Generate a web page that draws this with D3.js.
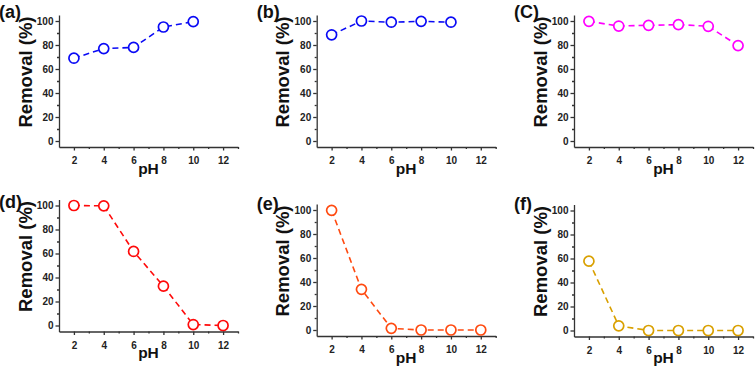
<!DOCTYPE html>
<html>
<head>
<meta charset="utf-8">
<script src="https://cdn.jsdelivr.net/npm/d3@7"></script>
<style>
  body { margin: 0; background: #fff; }
  text { font-family: "Liberation Sans", Arial, sans-serif; font-weight: bold; }
</style>
</head>
<body>
<div class="container"></div>
<script>
// removal vs pH for six panels
const phA = [2, 4, 6, 8, 10];
const remA = [69, 77, 78, 95, 99.5];
const phB = [2, 4, 6, 8, 10];
const remB = [88.5, 100, 99, 99.7, 99];
const phC = [2, 4, 6, 8, 10, 12];
const remC = [99.7, 95.8, 96.4, 97, 95.6, 79.5];
const phD = [2, 4, 6, 8, 10, 12];
const remD = [100, 99.7, 61.7, 32.8, 0.8, 0];
const phE = [2, 4, 6, 8, 10, 12];
const remE = [99.7, 33.9, 1.4, 0, 0, 0];
const phF = [2, 4, 6, 8, 10, 12];
const remF = [57.8, 3.9, 0, 0, 0, 0];

const panelLabels = ['(a)', '(b)', '(C)', '(d)', '(e)', '(f)'];
const xTicks = [2, 4, 6, 8, 10, 12];
const xMinor = [3, 5, 7, 9, 11, 13];
const yTicks = [0, 20, 40, 60, 80, 100];
const yMinor = [10, 30, 50, 70, 90];
const xTitle = 'pH';
const yTitle = 'Removal (%)';

const width = 756;
const height = 368;
const plotW = 179;
const plotH = 132;

const panels = [
    {ph: phA, rem: remA, color: '#0a0af5', x: 59, top: 15, labelY: 18},
    {ph: phB, rem: remB, color: '#0a0af5', x: 316.7, top: 15, labelY: 18},
    {ph: phC, rem: remC, color: '#ff00ff', x: 574, top: 15, labelY: 18},
    {ph: phD, rem: remD, color: '#ff0a0a', x: 59, top: 199.5, labelY: 208},
    {ph: phE, rem: remE, color: '#ff4a10', x: 316.7, top: 204, labelY: 209.5},
    {ph: phF, rem: remF, color: '#d9a000', x: 574, top: 204.5, labelY: 209.5},
];

const svg = d3.select('.container')
    .append('svg')
    .attr('width', width)
    .attr('height', height);

const xscale = d3.scaleLinear().domain([1, 13]).range([0, plotW]);
const yscale = d3.scaleLinear().domain([-5, 105]).range([plotH, 0]);

panels.forEach((p, i) => {
    const g = svg.append('g').attr('transform', `translate(${p.x},${p.top})`);

    // minor ticks first
    g.append('g')
        .attr('transform', `translate(0,${plotH})`)
        .call(d3.axisBottom(xscale).tickValues(xMinor).tickSize(2).tickFormat(''))
        .call(a => a.select('.domain').remove());
    g.append('g')
        .call(d3.axisLeft(yscale).tickValues(yMinor).tickSize(2).tickFormat(''))
        .call(a => a.select('.domain').remove());

    const xAxis = g.append('g')
        .attr('transform', `translate(0,${plotH})`)
        .call(d3.axisBottom(xscale).tickValues(xTicks).tickSize(3.5).tickSizeOuter(0).tickPadding(6.5));
    const yAxis = g.append('g')
        .call(d3.axisLeft(yscale).tickValues(yTicks).tickSize(3.5).tickSizeOuter(0).tickPadding(2));

    [xAxis, yAxis].forEach(a => {
        a.selectAll('text').attr('font-size', 10).attr('fill', '#222')
            .style('font-family', '"Liberation Sans", Arial, sans-serif').style('font-weight', 'bold');
    });
    g.selectAll('.domain, .tick line').attr('stroke', '#333').attr('stroke-width', 1.3);

    const pts = p.ph.map((d, j) => ({ph: d, rem: p.rem[j]}));
    const line = d3.line().x(d => xscale(d.ph)).y(d => yscale(d.rem));

    g.append('path')
        .datum(pts)
        .attr('d', line)
        .attr('fill', 'none')
        .attr('stroke', p.color)
        .attr('stroke-width', 1.6)
        .attr('stroke-dasharray', '6,4');

    g.selectAll('.point')
        .data(pts)
        .enter()
        .append('circle')
        .attr('class', 'point')
        .attr('cx', d => xscale(d.ph))
        .attr('cy', d => yscale(d.rem))
        .attr('r', 5)
        .attr('fill', 'white')
        .attr('stroke', p.color)
        .attr('stroke-width', 1.7);

    g.append('text')
        .attr('x', plotW / 2)
        .attr('y', plotH + 26.5)
        .attr('text-anchor', 'middle')
        .attr('font-size', 15.5)
        .attr('fill', '#111')
        .text(xTitle);

    g.append('text')
        .attr('transform', `translate(-27.5,57) rotate(-90)`)
        .attr('text-anchor', 'middle')
        .attr('font-size', 18.5)
        .attr('fill', '#111')
        .text(yTitle);

    svg.append('text')
        .attr('x', p.x - 60)
        .attr('y', p.labelY)
        .attr('font-size', 18)
        .attr('fill', '#111')
        .text(panelLabels[i]);
});
</script>
</body>
</html>
